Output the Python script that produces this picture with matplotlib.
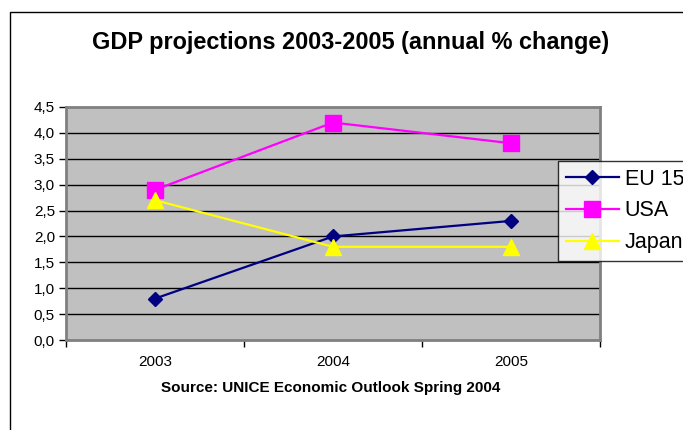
import matplotlib
matplotlib.use("Agg")
import matplotlib.pyplot as plt
from matplotlib.patches import Rectangle
from matplotlib.ticker import FuncFormatter, MultipleLocator

plt.rcParams["font.family"] = ["Liberation Sans", "DejaVu Sans"]

years = ["2003", "2004", "2005"]
eu15 = [0.8, 2.0, 2.3]
usa = [2.9, 4.2, 3.8]
japan = [2.7, 1.8, 1.8]

W, H = 683, 430
fig = plt.figure(figsize=(W / 100, H / 100), dpi=100)

# chart border (Excel style, cut off at right/bottom)
fig.patches.append(Rectangle((10 / W, -0.1), 1.2, 1 - 12 / H + 0.1, transform=fig.transFigure,
                             fill=False, edgecolor="black", linewidth=1.0))

ax = fig.add_axes([66 / W, 1 - 340 / H, (600 - 66) / W, (340 - 107) / H])
ax.set_facecolor("#C0C0C0")

x = [0.5, 1.5, 2.5]
ax.plot(x, eu15, color="#000080", lw=1.6, marker="D", ms=7.5, label="EU 15", zorder=3)
ax.plot(x, usa, color="#FF00FF", lw=1.6, marker="s", ms=11, label="USA", zorder=3)
ax.plot(x, japan, color="#FFFF00", lw=1.6, marker="^", ms=12, label="Japan", zorder=3)

ax.set_xlim(0, 3)
ax.set_ylim(0, 4.5)
ax.yaxis.set_major_locator(MultipleLocator(0.5))
ax.yaxis.set_major_formatter(FuncFormatter(lambda v, p: f"{v:.1f}".replace(".", ",")))
ax.set_xticks([0, 1, 2, 3])
ax.set_xticklabels([])
ax.set_xticks(x, minor=True)
ax.set_xticklabels(years, minor=True)
ax.tick_params(axis="x", which="minor", length=0, pad=11, labelsize=11)
ax.tick_params(axis="x", which="major", length=5, width=1, color="black", direction="out")
ax.tick_params(axis="y", length=5, width=1, labelsize=11, direction="out", pad=3)
for v in [0.5, 1.0, 1.5, 2.0, 2.5, 3.0, 3.5, 4.0]:
    ax.axhline(v, color="black", lw=1.0, zorder=1)
for s in ax.spines.values():
    s.set_color("#808080")
    s.set_linewidth(2)

fig.text(351 / W, 1 - 42 / H, "GDP projections 2003-2005 (annual % change)",
         ha="center", va="center", fontsize=16.9, fontweight="bold")
fig.text(331 / W, 1 - 388 / H, "Source: UNICE Economic Outlook Spring 2004",
         ha="center", va="center", fontsize=11, fontweight="bold")

leg = fig.legend(loc="upper left", bbox_to_anchor=(558 / W, 1 - 161 / H), borderaxespad=0,
                 fontsize=15.5, frameon=True, fancybox=False, edgecolor="black",
                 handlelength=2.5, labelspacing=0.5, borderpad=0.35, handletextpad=0.25)
leg.get_frame().set_linewidth(1.0)

fig.savefig("out.png", dpi=100)
